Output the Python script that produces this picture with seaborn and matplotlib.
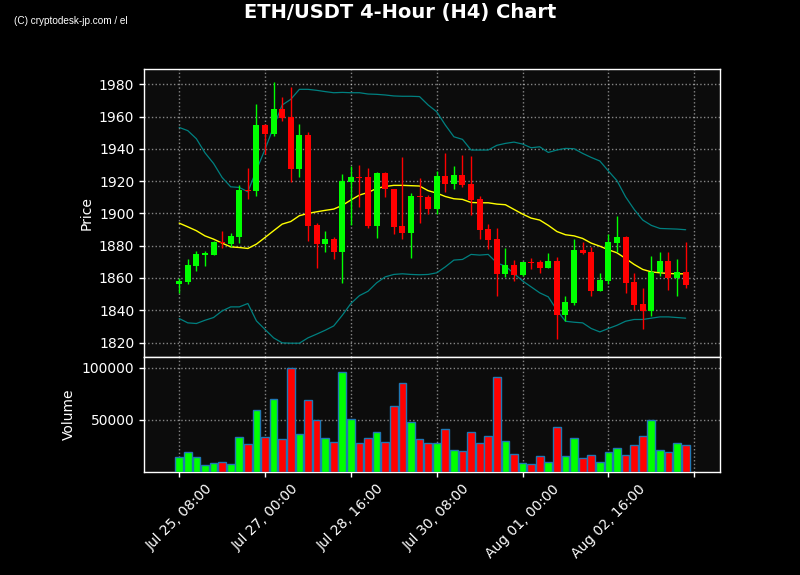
import numpy as np
import pandas as pd
import matplotlib
matplotlib.use("Agg")
import matplotlib.pyplot as plt
import seaborn as sns

# 4-hour candles
opens = [1856.0, 1857.6, 1867.5, 1874.5, 1874.2, 1882.2, 1881.2, 1885.5, 1914.5, 1914.1,
         1954.8, 1949.4, 1964.7, 1959.7, 1927.7, 1948.4, 1892.8, 1881.2, 1883.9, 1876.2,
         1919.6, 1922.5, 1922.5, 1892.4, 1924.8, 1914.9, 1892.1, 1888.0, 1910.7, 1910.1,
         1902.9, 1923.2, 1918.4, 1923.8, 1918.2, 1909.1, 1890.3, 1884.1, 1862.6, 1868.0,
         1861.8, 1869.8, 1869.8, 1866.3, 1870.4, 1837.0, 1844.4, 1877.3, 1876.0, 1852.0,
         1858.2, 1881.6, 1885.3, 1857.4, 1843.8, 1839.6, 1863.6, 1870.4, 1860.1, 1864.0]
highs = [1860.0, 1871.9, 1876.8, 1876.8, 1882.8, 1889.3, 1887.6, 1917.8, 1927.9, 1967.6,
         1955.2, 1981.2, 1971.9, 1978.1, 1955.2, 1950.2, 1894.2, 1889.3, 1885.5, 1924.2,
         1929.4, 1929.8, 1928.3, 1925.6, 1925.6, 1915.2, 1935.1, 1912.8, 1921.7, 1911.4,
         1926.3, 1937.2, 1929.1, 1936.4, 1935.8, 1911.0, 1893.4, 1890.7, 1878.3, 1871.1,
         1870.2, 1872.1, 1871.1, 1875.2, 1873.1, 1849.1, 1884.3, 1882.4, 1878.9, 1862.8,
         1887.2, 1898.3, 1885.9, 1862.8, 1853.9, 1873.9, 1876.2, 1875.8, 1871.9, 1882.0]
lows = [1851.0, 1856.4, 1864.4, 1867.5, 1874.2, 1878.3, 1879.1, 1881.4, 1908.7, 1911.0,
        1936.6, 1948.2, 1957.1, 1919.2, 1922.3, 1882.8, 1865.9, 1876.2, 1871.9, 1856.6,
        1892.8, 1903.9, 1891.1, 1884.5, 1910.1, 1887.2, 1883.9, 1872.1, 1893.8, 1899.6,
        1899.8, 1913.4, 1914.9, 1916.1, 1899.0, 1884.1, 1877.7, 1848.7, 1860.7, 1858.2,
        1861.5, 1865.3, 1862.8, 1866.0, 1821.9, 1833.4, 1843.2, 1874.6, 1849.1, 1851.8,
        1856.2, 1876.2, 1851.0, 1840.1, 1828.7, 1836.7, 1861.1, 1852.5, 1848.7, 1853.9]
closes = [1858.0, 1868.0, 1874.8, 1875.5, 1882.2, 1881.4, 1885.9, 1914.5, 1913.9, 1954.8,
          1949.4, 1964.7, 1959.3, 1927.7, 1948.4, 1892.4, 1881.2, 1883.9, 1876.2, 1920.1,
          1922.5, 1921.9, 1892.4, 1924.8, 1914.9, 1891.7, 1888.0, 1910.7, 1910.1, 1902.9,
          1923.2, 1918.4, 1923.8, 1917.8, 1908.3, 1889.7, 1883.5, 1862.6, 1868.0, 1861.8,
          1869.8, 1869.4, 1866.3, 1870.4, 1837.0, 1845.0, 1877.3, 1875.2, 1852.0, 1858.7,
          1882.2, 1885.3, 1857.0, 1843.2, 1839.6, 1863.6, 1870.4, 1860.1, 1864.0, 1855.8]
volumes = [14500, 19300, 14500, 7000, 8900, 9800, 7900, 33500, 26900, 59200,
           33500, 69600, 32000, 100000, 36400, 68700, 49700, 32600, 28800, 95300,
           50600, 27800, 32600, 38300, 28800, 63000, 84800, 47800, 31600, 27800,
           27800, 41100, 21200, 20300, 38300, 27800, 34500, 90500, 29700, 17400,
           8900, 7900, 15500, 9800, 43000, 15500, 32600, 13600, 16500, 9800,
           19300, 23100, 16500, 25900, 34500, 49700, 21200, 19300, 27800, 25900]

# Bollinger bands as drawn
bb_mid = [1894.0, 1891.7, 1889.3, 1886.1, 1884.1, 1881.6, 1879.3, 1878.9, 1878.3, 1881.0,
          1885.1, 1889.3, 1893.4, 1895.0, 1898.6, 1900.0, 1901.0, 1901.9, 1902.7, 1905.0,
          1908.3, 1911.4, 1913.0, 1915.5, 1916.7, 1917.4, 1917.4, 1917.2, 1917.0, 1914.1,
          1912.6, 1910.5, 1909.1, 1908.7, 1906.8, 1906.6, 1906.6, 1905.8, 1905.4, 1902.5,
          1899.6, 1897.1, 1895.9, 1892.6, 1888.8, 1886.8, 1886.1, 1884.5, 1881.6, 1879.7,
          1877.5, 1875.6, 1872.1, 1868.4, 1865.3, 1863.8, 1863.2, 1862.8, 1862.6, 1862.6]
bb_upper = [1953.3, 1951.3, 1946.3, 1937.6, 1931.0, 1922.3, 1916.5, 1916.1, 1913.4, 1926.9,
            1939.7, 1953.7, 1967.2, 1970.7, 1976.9, 1976.9, 1976.3, 1975.5, 1974.8, 1975.0,
            1974.8, 1974.8, 1974.0, 1973.8, 1973.4, 1972.8, 1972.6, 1972.6, 1972.4, 1967.2,
            1963.0, 1954.8, 1947.5, 1945.9, 1939.3, 1939.3, 1939.3, 1942.2, 1943.4, 1944.2,
            1943.0, 1940.7, 1941.3, 1937.8, 1939.3, 1940.3, 1940.1, 1937.2, 1934.7, 1932.5,
            1926.3, 1920.3, 1910.3, 1902.5, 1895.9, 1892.6, 1890.7, 1890.5, 1890.3, 1889.9]
bb_lower = [1834.9, 1832.2, 1831.8, 1833.8, 1835.5, 1839.6, 1842.1, 1842.1, 1844.2, 1833.4,
            1828.1, 1822.9, 1819.8, 1819.6, 1819.6, 1822.9, 1825.2, 1827.6, 1830.3, 1836.9,
            1844.2, 1849.1, 1851.8, 1857.0, 1860.7, 1862.2, 1862.6, 1862.2, 1862.0, 1862.2,
            1863.2, 1866.9, 1871.1, 1871.5, 1874.6, 1874.2, 1874.6, 1869.4, 1867.3, 1862.8,
            1858.2, 1854.5, 1850.8, 1848.3, 1840.1, 1833.2, 1832.6, 1832.2, 1828.7, 1826.6,
            1828.7, 1830.7, 1833.2, 1834.3, 1834.3, 1835.1, 1835.9, 1835.9, 1835.5, 1835.1]

start_time = "2023-07-25 08:00"

df = pd.DataFrame({"open": opens, "high": highs, "low": lows, "close": closes,
                   "volume": volumes, "mid": bb_mid, "upper": bb_upper, "lower": bb_lower},
                  index=pd.date_range(start_time, periods=len(opens), freq="4h"))
df["x"] = np.arange(len(df))
up = df["close"] >= df["open"]
colors = np.where(up, "#00ff00", "#ff0000")

sns.set_theme(style="dark")
plt.rcParams.update({
    "figure.facecolor": "black",
    "axes.facecolor": "#0c0c0c",
    "axes.edgecolor": "white",
    "axes.labelcolor": "white",
    "xtick.color": "white",
    "ytick.color": "white",
    "text.color": "white",
    "xtick.bottom": True,
    "ytick.left": True,
    "font.size": 10,
    "axes.labelsize": 10,
    "xtick.labelsize": 10,
    "ytick.labelsize": 10,
})
plt.rcParams["font.family"] = ["DejaVu Sans"]

fig = plt.figure(figsize=(8, 5.75), dpi=100)
ax1 = fig.add_axes([0.18, 0.379, 0.72, 0.501])
ax2 = fig.add_axes([0.18, 0.179, 0.72, 0.2], sharex=ax1)

# candles
body_w = 0.7
ax1.vlines(df["x"], df["low"], df["high"], colors=colors, linewidth=1, zorder=3)
ax1.bar(df["x"], (df["close"] - df["open"]).abs().clip(lower=0.6),
        bottom=np.minimum(df["open"], df["close"]), width=body_w,
        color=colors, linewidth=0, zorder=4)

sns.lineplot(x=df["x"], y=df["upper"], ax=ax1, color="teal", linewidth=0.9, zorder=2)
sns.lineplot(x=df["x"], y=df["lower"], ax=ax1, color="teal", linewidth=0.9, zorder=2)
sns.lineplot(x=df["x"], y=df["mid"], ax=ax1, color="yellow", linewidth=1, zorder=2)

ax1.set_ylim(1811, 1989.5)
ax1.set_yticks(range(1820, 1981, 20))
ax1.set_ylabel("Price")
ax1.set_xlabel("")
ax1.tick_params(axis="x", labelbottom=False, length=0)

# volume
ax2.bar(df["x"], df["volume"], width=0.9, color=colors, edgecolor="#1f77b4",
        linewidth=1, zorder=3)
ax2.set_ylim(0, max(volumes) * 1.1)
ax2.set_yticks([50000, 100000])
ax2.set_ylabel("Volume")

ticks = list(range(0, len(df) + 1, 10))
labels = [df.index[i].strftime("%b %d, %H:%M") if i < len(df) else "" for i in ticks]
ax2.set_xticks(ticks)
ax2.set_xticklabels(labels, rotation=45)
ax2.set_xlim(-4.1, 63.0)

for ax in (ax1, ax2):
    ax.grid(True, color="white", linestyle=":", linewidth=1, alpha=0.5)
    ax.set_axisbelow(True)
    for s in ax.spines.values():
        s.set_color("white")
        s.set_linewidth(1)
    ax.tick_params(length=3.5, width=1)

fig.suptitle("ETH/USDT 4-Hour (H4) Chart", fontsize=14, fontweight="bold",
             color="white", y=0.995)
fig.text(0.018, 0.958, "(C) cryptodesk-jp.com / el", fontsize=7.2,
         family=["Liberation Sans", "DejaVu Sans"], color="white")

fig.savefig("out.png", dpi=100, facecolor=fig.get_facecolor())
plt.close(fig)
